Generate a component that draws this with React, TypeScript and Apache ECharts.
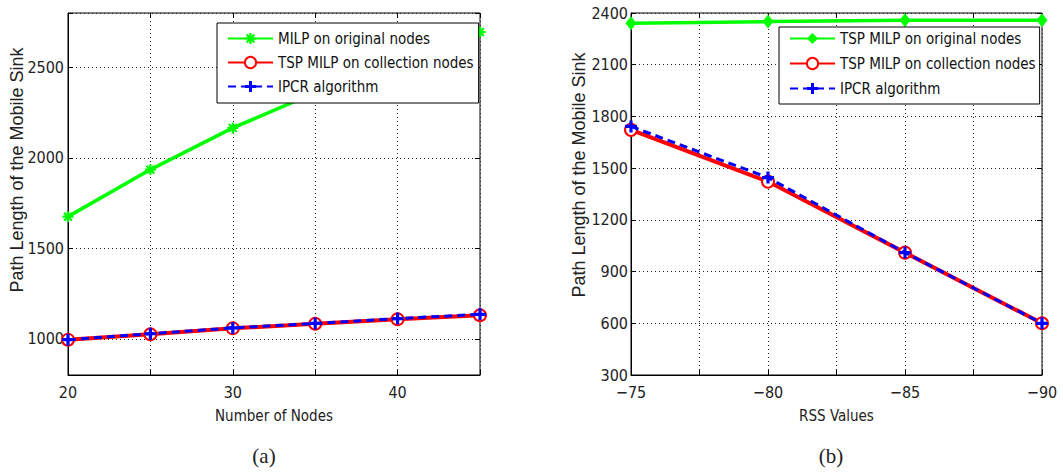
import React, { useEffect, useRef } from 'react';
import * as echarts from 'echarts';

// ---- data ----
const nodeCounts = [20, 25, 30, 35, 40, 45];
const milpOriginalA = [1675, 1935, 2165, 2360, 2530, 2695];
const tspCollectionA = [995, 1025, 1058, 1083, 1108, 1130];
const ipcrA = [995, 1028, 1060, 1085, 1112, 1135];

const rssValues = [-75, -80, -85, -90];
const tspOriginalB = [2340, 2350, 2358, 2358];
const tspCollectionB = [1722, 1422, 1010, 600];
const ipcrB = [1742, 1445, 1010, 600];

const legendA = ['MILP on original nodes', 'TSP MILP on collection nodes', 'IPCR algorithm'];
const legendB = ['TSP MILP on original nodes', 'TSP MILP on collection nodes', 'IPCR algorithm'];

const yTitle = 'Path Length of the Mobile Sink';
const xTitleA = 'Number of Nodes';
const xTitleB = 'RSS Values';
const captionA = '(a)';
const captionB = '(b)';

// ---- styling ----
const GREEN = '#00ff00';
const RED = '#ff0000';
const BLUE = '#0000ff';
const narrow = "'DejaVu Sans Condensed', 'Liberation Sans', sans-serif";
const sans = "'Liberation Sans', Arial, sans-serif";
const serif = "'Liberation Serif', 'Times New Roman', serif";

const asterisk =
  'path://M-1,-5L1,-5L1,5L-1,5Z M-5,-1L5,-1L5,1L-5,1Z M-2.83,-4.24L4.24,2.83L2.83,4.24L-4.24,-2.83Z M-4.24,2.83L2.83,-4.24L4.24,-2.83L-2.83,4.24Z';
const plus = 'path://M-1.6,-6L1.6,-6L1.6,6L-1.6,6Z M-6,-1.6L6,-1.6L6,1.6L-6,1.6Z';

const zip = (xs: number[], ys: number[]) => xs.map((x, i) => [x, ys[i]]);

const splitLine = { show: true, lineStyle: { color: '#222', type: [1, 3] as number[], width: 1 } };
const axisLine = { show: true, onZero: false, lineStyle: { color: '#000', width: 1 } };
const axisTick = { show: true, inside: true, length: 5, lineStyle: { color: '#000' } };
const labelStyle = { fontFamily: narrow, fontSize: 16, color: '#222' };
const legendText = { fontFamily: narrow, fontSize: 15, color: '#111' };

// mirrored (top / right) axes carrying only inside ticks, like MATLAB's box
const mirrorX = (gridIndex: number, min: number, max: number, interval: number, inverse: boolean) => ({
  type: 'value' as const, gridIndex, position: 'top' as const, min, max, interval, inverse,
  axisLine: { show: false }, axisTick, axisLabel: { show: false }, splitLine: { show: false },
});
const mirrorY = (gridIndex: number, min: number, max: number, extra: Record<string, number>) => ({
  type: 'value' as const, gridIndex, position: 'right' as const, min, max, ...extra,
  axisLine: { show: false }, axisTick, axisLabel: { show: false }, splitLine: { show: false },
});

function buildOption(): echarts.EChartsOption {
  return {
    animation: false,
    backgroundColor: '#fff',
    grid: [
      { left: 68, top: 13, width: 412, height: 362, show: true, borderColor: '#000', borderWidth: 1, backgroundColor: '#fff' },
      { left: 631, top: 13, width: 411, height: 362, show: true, borderColor: '#000', borderWidth: 1, backgroundColor: '#fff' },
    ],
    xAxis: [
      {
        type: 'value', gridIndex: 0, min: 20, max: 45, interval: 5,
        axisLine, axisTick, splitLine,
        axisLabel: { ...labelStyle, margin: 9, formatter: (v: number) => (v % 10 === 0 && v < 45 ? String(v) : '') },
        name: xTitleA, nameLocation: 'middle', nameGap: 33,
        nameTextStyle: { fontFamily: narrow, fontSize: 15, color: '#222' },
      },
      {
        type: 'value', gridIndex: 1, min: -90, max: -75, interval: 2.5, inverse: true,
        axisLine, axisTick, splitLine,
        axisLabel: { ...labelStyle, margin: 9, formatter: (v: number) => (v % 5 === 0 ? String(v).replace('-', '\u2212') : '') },
        name: xTitleB, nameLocation: 'middle', nameGap: 33,
        nameTextStyle: { fontFamily: narrow, fontSize: 15, color: '#222' },
      },
      mirrorX(0, 20, 45, 5, false),
      mirrorX(1, -90, -75, 2.5, true),
    ],
    yAxis: [
      {
        type: 'value', gridIndex: 0, min: 800, max: 2800, splitNumber: 4,
        axisLine, axisTick, splitLine,
        axisLabel: { ...labelStyle, margin: 4, formatter: (v: number) => (v % 500 === 0 ? String(v) : '') },
      },
      {
        type: 'value', gridIndex: 1, min: 300, max: 2400, interval: 300,
        axisLine, axisTick, splitLine,
        axisLabel: { ...labelStyle, margin: 3, formatter: (v: number) => String(v) },
      },
      mirrorY(0, 800, 2800, { splitNumber: 4 }),
      mirrorY(1, 300, 2400, { interval: 300 }),
    ],
    legend: [
      {
        data: legendA, orient: 'vertical', left: 217, top: 23,
        selectedMode: false, backgroundColor: '#fff', borderColor: '#000', borderWidth: 1,
        padding: [8, 5, 9, 10], itemGap: 9, itemWidth: 45, itemHeight: 14,
        textStyle: legendText,
      },
      {
        data: legendB, orient: 'vertical', left: 779, top: 27,
        selectedMode: false, backgroundColor: '#fff', borderColor: '#000', borderWidth: 1,
        padding: [4, 4, 8, 10], itemGap: 10, itemWidth: 45, itemHeight: 14,
        textStyle: legendText,
      },
    ],
    series: [
      {
        name: legendA[0], type: 'line', xAxisIndex: 0, yAxisIndex: 0,
        data: zip(nodeCounts, milpOriginalA), color: GREEN,
        lineStyle: { width: 3.5, color: GREEN }, symbol: asterisk, symbolSize: 11,
        itemStyle: { color: GREEN }, clip: false, z: 2,
      },
      {
        name: legendA[1], type: 'line', xAxisIndex: 0, yAxisIndex: 0,
        data: zip(nodeCounts, tspCollectionA), color: RED,
        lineStyle: { width: 4, color: RED }, symbol: 'emptyCircle', symbolSize: 12,
        itemStyle: { color: RED, borderColor: RED, borderWidth: 2.5 }, clip: false, z: 3,
      },
      {
        name: legendA[2], type: 'line', xAxisIndex: 0, yAxisIndex: 0,
        data: zip(nodeCounts, ipcrA), color: BLUE,
        lineStyle: { width: 3, color: BLUE, type: [8, 5] }, symbol: plus, symbolSize: 12,
        itemStyle: { color: BLUE }, clip: false, z: 4,
      },
      {
        name: legendB[0], type: 'line', xAxisIndex: 1, yAxisIndex: 1,
        data: zip(rssValues, tspOriginalB), color: GREEN,
        lineStyle: { width: 3.5, color: GREEN }, symbol: 'diamond', symbolSize: [11, 14],
        itemStyle: { color: GREEN }, clip: false, z: 2,
      },
      {
        name: legendB[1], type: 'line', xAxisIndex: 1, yAxisIndex: 1,
        data: zip(rssValues, tspCollectionB), color: RED,
        lineStyle: { width: 4, color: RED }, symbol: 'emptyCircle', symbolSize: 12,
        itemStyle: { color: RED, borderColor: RED, borderWidth: 2.5 }, clip: false, z: 3,
      },
      {
        name: legendB[2], type: 'line', xAxisIndex: 1, yAxisIndex: 1,
        data: zip(rssValues, ipcrB), color: BLUE,
        lineStyle: { width: 3, color: BLUE, type: [8, 5] }, symbol: plus, symbolSize: 12,
        itemStyle: { color: BLUE }, clip: false, z: 4,
      },
    ],
    graphic: [
      {
        type: 'text', x: 17, y: 170, rotation: Math.PI / 2,
        style: { text: yTitle, fontFamily: sans, fontSize: 18, fill: '#222', align: 'center', verticalAlign: 'middle' },
      },
      {
        type: 'text', x: 579, y: 175, rotation: Math.PI / 2,
        style: { text: yTitle, fontFamily: sans, fontSize: 18, fill: '#222', align: 'center', verticalAlign: 'middle' },
      },
      {
        type: 'text', x: 264, y: 456,
        style: { text: captionA, fontFamily: serif, fontSize: 21, fill: '#222', align: 'center', verticalAlign: 'middle' },
      },
      {
        type: 'text', x: 831, y: 456,
        style: { text: captionB, fontFamily: serif, fontSize: 21, fill: '#222', align: 'center', verticalAlign: 'middle' },
      },
    ],
  };
}

export default function App() {
  const ref = useRef<HTMLDivElement>(null);
  useEffect(() => {
    document.body.style.margin = '0';
    const chart = echarts.init(ref.current as HTMLDivElement, null, { renderer: 'svg' });
    chart.setOption(buildOption());
    return () => chart.dispose();
  }, []);
  return <div ref={ref} style={{ width: 1063, height: 472 }} />;
}
